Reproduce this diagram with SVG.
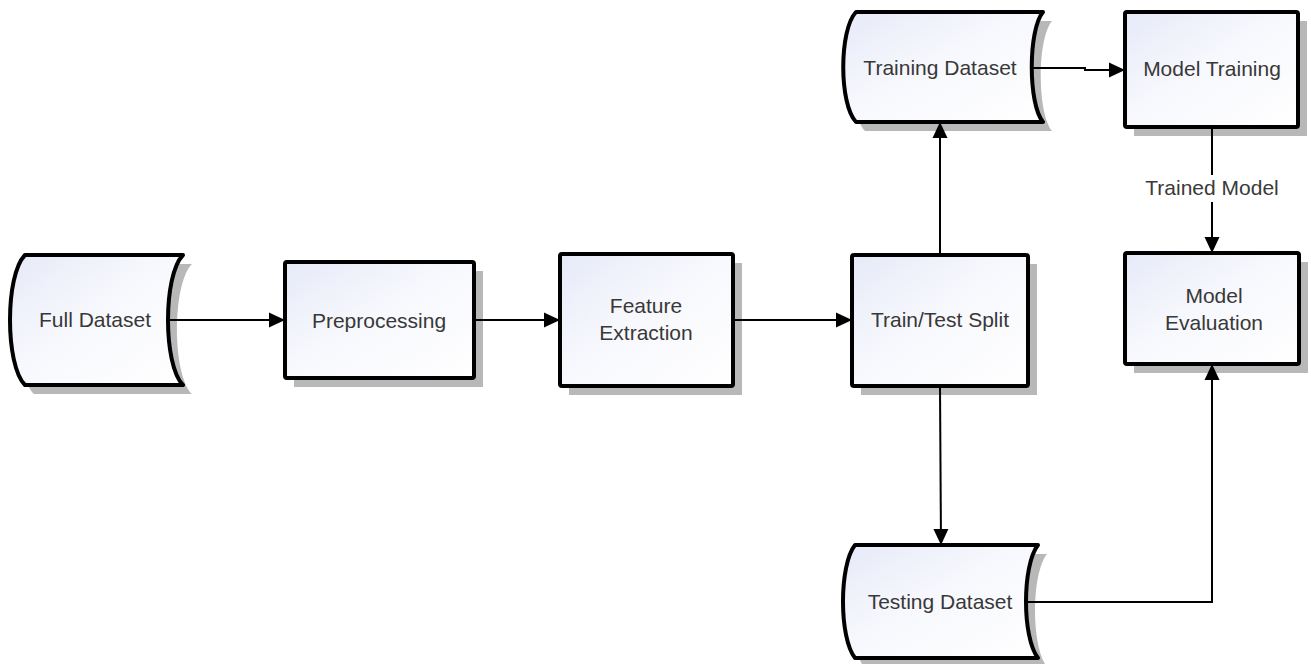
<svg xmlns="http://www.w3.org/2000/svg" width="1311" height="664" viewBox="0 0 1311 664">
  <defs>
    <linearGradient id="boxFill" x1="0" y1="0" x2="1" y2="1">
      <stop offset="0" stop-color="#e6eaf8"/>
      <stop offset="0.45" stop-color="#f7f8fd"/>
      <stop offset="1" stop-color="#ffffff"/>
    </linearGradient>
    <marker id="arrow" markerUnits="userSpaceOnUse" viewBox="0 0 16 16" markerWidth="16" markerHeight="16" refX="16" refY="8" orient="auto">
      <path d="M0,0.5 L16,8 L0,15.5 Z" fill="#000"/>
    </marker>
    <style>
      .shape { fill: url(#boxFill); stroke: #000; stroke-width: 4; stroke-linejoin: round; }
      .shadow { fill: #b8b8b8; stroke: none; }
      .label { font-family: "Liberation Sans", Arial, sans-serif; font-size: 21px; fill: #383838; text-anchor: middle; }
      .edge { fill: none; stroke: #000; stroke-width: 2; }
      .edge-label { font-family: "Liberation Sans", Arial, sans-serif; font-size: 21px; fill: #3a3a3a; text-anchor: middle; }
    </style>
  </defs>
  <rect width="1311" height="664" fill="#fff"/>

  <!-- data stores -->
  <g id="full-dataset">
    <path class="shadow" transform="translate(9,9)" d="M25,255 H183 C163,275 163,365 183,385 H25 C5,365 5,275 25,255 Z"/>
    <path class="shape" d="M25,255 H183 C163,275 163,365 183,385 H25 C5,365 5,275 25,255 Z"/>
    <text class="label" x="95" y="327">Full Dataset</text>
  </g>

  <g id="training-dataset">
    <path class="shadow" transform="translate(9,9)" d="M856,12 H1043 C1028,30 1028,104 1043,122 H856 C839,104 839,30 856,12 Z"/>
    <path class="shape" d="M856,12 H1043 C1028,30 1028,104 1043,122 H856 C839,104 839,30 856,12 Z"/>
    <text class="label" x="940" y="75">Training Dataset</text>
  </g>

  <g id="testing-dataset">
    <path class="shadow" transform="translate(9,9)" d="M855,545 H1038 C1022,565 1022,638 1038,658 H855 C839,638 839,565 855,545 Z"/>
    <path class="shape" d="M855,545 H1038 C1022,565 1022,638 1038,658 H855 C839,638 839,565 855,545 Z"/>
    <text class="label" x="940" y="609">Testing Dataset</text>
  </g>

  <!-- process boxes -->
  <g id="preprocessing">
    <rect class="shadow" x="294" y="271" width="189" height="116"/>
    <rect class="shape" x="285" y="262" width="189" height="116" rx="2"/>
    <text class="label" x="379" y="328">Preprocessing</text>
  </g>

  <g id="feature-extraction">
    <rect class="shadow" x="569" y="263" width="173" height="132"/>
    <rect class="shape" x="560" y="254" width="173" height="132" rx="2"/>
    <text class="label" x="646" y="313">Feature</text>
    <text class="label" x="646" y="340">Extraction</text>
  </g>

  <g id="train-test-split">
    <rect class="shadow" x="861" y="264" width="176" height="131"/>
    <rect class="shape" x="852" y="255" width="176" height="131" rx="2"/>
    <text class="label" x="940" y="327">Train/Test Split</text>
  </g>

  <g id="model-training">
    <rect class="shadow" x="1134" y="21" width="173" height="115"/>
    <rect class="shape" x="1125" y="12" width="173" height="115" rx="2"/>
    <text class="label" x="1212" y="76">Model Training</text>
  </g>

  <g id="model-evaluation">
    <rect class="shadow" x="1134" y="262" width="174" height="111"/>
    <rect class="shape" x="1125" y="253" width="174" height="111" rx="2"/>
    <text class="label" x="1214" y="303">Model</text>
    <text class="label" x="1214" y="330">Evaluation</text>
  </g>

  <!-- connectors, drawn over the node shadows -->
  <g id="connectors">
    <path class="edge" d="M168,320 H285" marker-end="url(#arrow)"/>
    <path class="edge" d="M474,320 H560" marker-end="url(#arrow)"/>
    <path class="edge" d="M733,320 H852" marker-end="url(#arrow)"/>
    <path class="edge" d="M940,255 V122" marker-end="url(#arrow)"/>
    <path class="edge" d="M940,386 L941,545" marker-end="url(#arrow)"/>
    <path class="edge" d="M1031,68 H1085 V70 H1125" marker-end="url(#arrow)"/>
    <path class="edge" d="M1212,127 V253" marker-end="url(#arrow)"/>
    <path class="edge" d="M1026,602 H1212 V364" marker-end="url(#arrow)"/>
    <rect x="1138" y="175" width="150" height="27" fill="#fff"/>
    <text class="edge-label" x="1212" y="195">Trained Model</text>
  </g>
</svg>
